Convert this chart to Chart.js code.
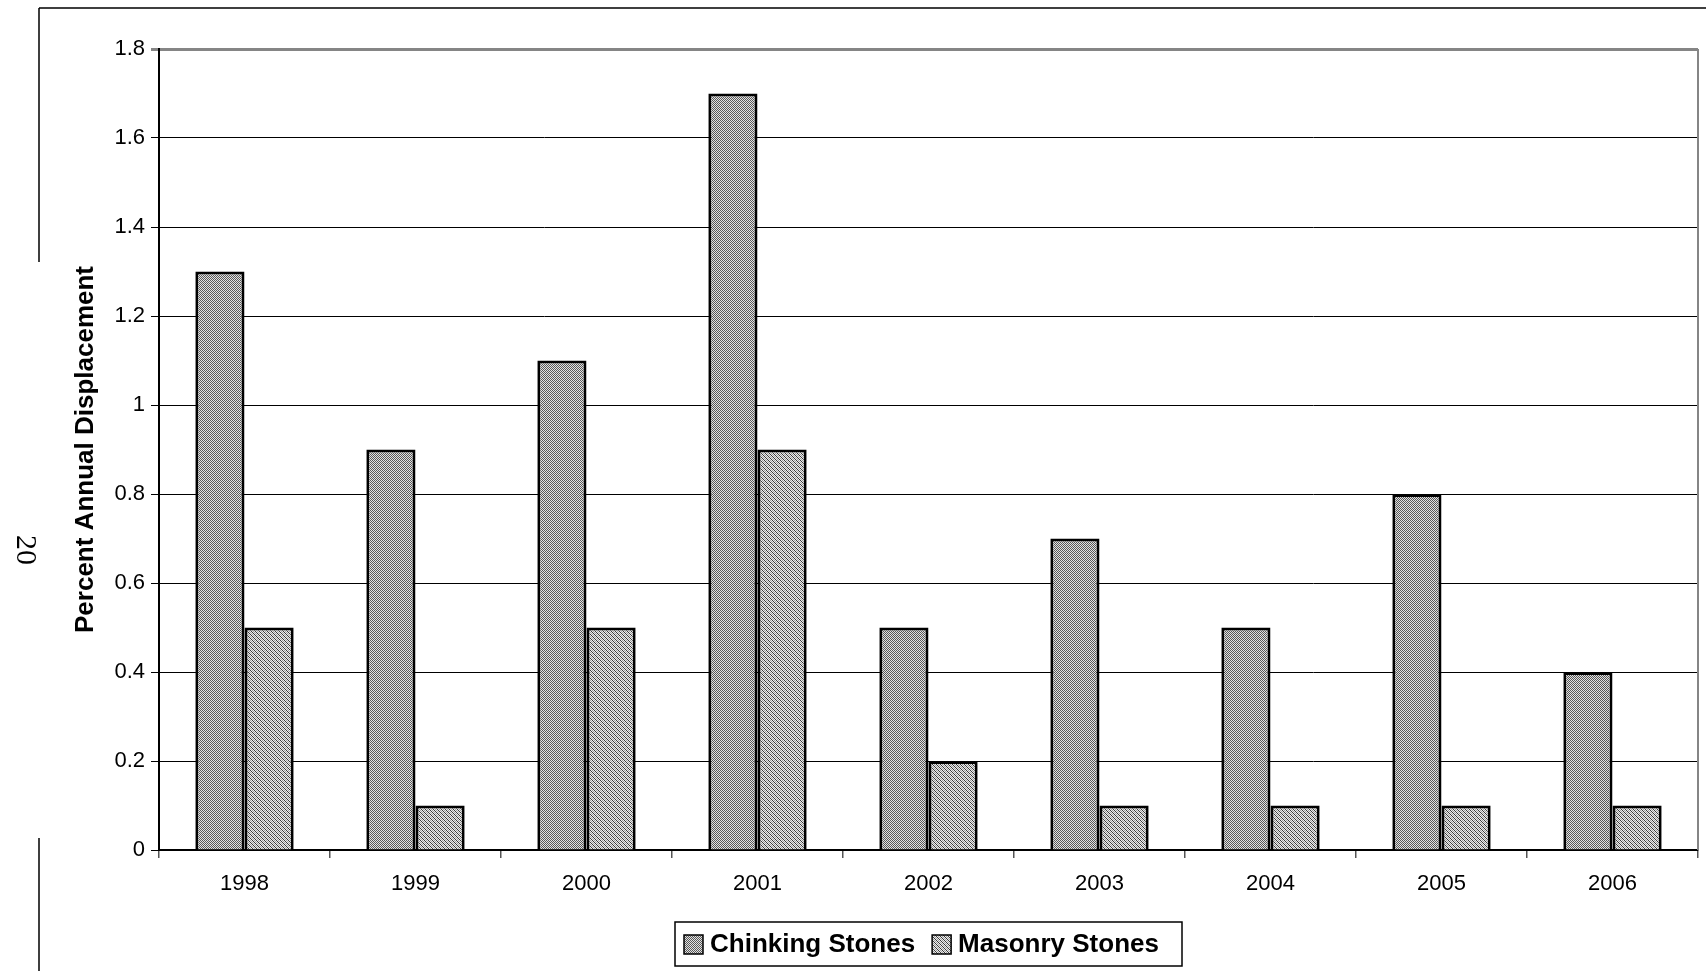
<!DOCTYPE html>
<html>
<head>
<meta charset="utf-8">
<title>Percent Annual Displacement</title>
<script src="https://cdn.jsdelivr.net/npm/chart.js@4.4.1/dist/chart.umd.min.js"></script>
<style>
  html, body { margin: 0; padding: 0; background: #fff; }
  #wrap { width: 1706px; height: 971px; }
</style>
</head>
<body>
<div id="wrap"><canvas id="chart" width="1706" height="971"></canvas></div>
<script>
// Data
const years = ["1998", "1999", "2000", "2001", "2002", "2003", "2004", "2005", "2006"];
const chinking = [1.3, 0.9, 1.1, 1.7, 0.5, 0.7, 0.5, 0.8, 0.4];
const masonry = [0.5, 0.1, 0.5, 0.9, 0.2, 0.1, 0.1, 0.1, 0.1];
const yTickLabels = ["0", "0.2", "0.4", "0.6", "0.8", "1", "1.2", "1.4", "1.6", "1.8"];

// Small pixel tiles to mimic the old-style fill patterns
function makePattern(size, pick) {
  const c = document.createElement("canvas");
  c.width = size;
  c.height = size;
  const g = c.getContext("2d");
  for (let y = 0; y < size; y++) {
    for (let x = 0; x < size; x++) {
      g.fillStyle = pick(x, y);
      g.fillRect(x, y, 1, 1);
    }
  }
  return g.createPattern(c, "repeat");
}

const chinkingFill = makePattern(4, (x, y) => ((x + y) % 2 === 0 ? "#585858" : "#e2e2e2"));
const masonryFill = makePattern(4, (x, y) => {
  if ((x + y) % 2 !== 0) return "#ececec";
  return (x - y + 4) % 4 === 0 ? "#3a3a3a" : "#9c9c9c";
});

// Frame, page number, plot border and boxed legend
const decorations = {
  id: "decorations",
  afterDraw(chart) {
    const ctx = chart.ctx;
    const area = chart.chartArea;
    ctx.save();

    // outer frame lines
    ctx.strokeStyle = "#000";
    ctx.lineWidth = 1.5;
    ctx.beginPath();
    ctx.moveTo(39, 8);
    ctx.lineTo(1706, 8);
    ctx.moveTo(39, 8);
    ctx.lineTo(39, 262);
    ctx.moveTo(39, 838);
    ctx.lineTo(39, 971);
    ctx.stroke();

    // plot area right border
    ctx.strokeStyle = "#858585";
    ctx.lineWidth = 2;
    ctx.beginPath();
    ctx.moveTo(area.right, area.top);
    ctx.lineTo(area.right, area.bottom);
    ctx.stroke();

    // page number
    ctx.fillStyle = "#000";
    ctx.font = '30px "Liberation Serif"';
    ctx.textAlign = "center";
    ctx.textBaseline = "middle";
    ctx.translate(25, 550);
    ctx.rotate(Math.PI / 2);
    ctx.fillText("20", 0, 0);
    ctx.setTransform(1, 0, 0, 1, 0, 0);

    // legend
    const lx = 675, ly = 922, lw = 507, lh = 44;
    ctx.fillStyle = "#fff";
    ctx.fillRect(lx, ly, lw, lh);
    ctx.strokeStyle = "#000";
    ctx.lineWidth = 1.5;
    ctx.strokeRect(lx, ly, lw, lh);

    ctx.font = 'bold 26px "Liberation Sans"';
    ctx.textAlign = "left";
    ctx.textBaseline = "middle";
    let x = lx + 9;
    const cy = ly + lh / 2;
    chart.data.datasets.forEach((ds) => {
      ctx.fillStyle = ds.backgroundColor;
      ctx.fillRect(x, cy - 9, 19, 19);
      ctx.strokeStyle = "#000";
      ctx.lineWidth = 1.5;
      ctx.strokeRect(x, cy - 9, 19, 19);
      ctx.fillStyle = "#000";
      ctx.fillText(ds.label, x + 26, cy + 1);
      x += 26 + ctx.measureText(ds.label).width + 17;
    });

    ctx.restore();
  },
};

const ctx = document.getElementById("chart").getContext("2d");
new Chart(ctx, {
  type: "bar",
  data: {
    labels: years,
    datasets: [
      {
        label: "Chinking Stones",
        data: chinking,
        backgroundColor: chinkingFill,
        borderColor: "#000",
        borderWidth: 3,
      },
      {
        label: "Masonry Stones",
        data: masonry,
        backgroundColor: masonryFill,
        borderColor: "#000",
        borderWidth: 3,
      },
    ],
  },
  options: {
    responsive: false,
    devicePixelRatio: 1,
    animation: false,
    layout: { padding: { top: 49, right: 8, bottom: 0, left: 0 } },
    categoryPercentage: 0.575,
    barPercentage: 1,
    plugins: {
      legend: { display: false },
      tooltip: { enabled: false },
    },
    scales: {
      x: {
        grid: {
          offset: true,
          drawOnChartArea: false,
          drawTicks: true,
          tickLength: 8,
          color: "#555",
          lineWidth: 1.5,
        },
        border: { color: "#000", width: 2 },
        ticks: {
          color: "#000",
          font: { family: "Liberation Sans", size: 22 },
          padding: 13,
          maxRotation: 0,
        },
        afterFit(scale) {
          scale.height = 121;
        },
      },
      y: {
        min: 0,
        max: 1.8,
        ticks: {
          stepSize: 0.2,
          color: "#000",
          font: { family: "Liberation Sans", size: 22 },
          padding: 6,
          callback: (v, i) => yTickLabels[i],
        },
        grid: {
          color: (c) => (c.index === yTickLabels.length - 1 ? "#858585" : "#000"),
          lineWidth: (c) => (c.index === yTickLabels.length - 1 ? 3 : 1),
          tickLength: 8,
        },
        border: { color: "#000", width: 2 },
        title: {
          display: true,
          text: "Percent Annual Displacement",
          color: "#000",
          font: { family: "Liberation Sans", size: 26, weight: "bold" },
          padding: { top: 70, bottom: 0 },
        },
        afterFit(scale) {
          scale.width = 159;
        },
      },
    },
  },
  plugins: [decorations],
});
</script>
</body>
</html>
